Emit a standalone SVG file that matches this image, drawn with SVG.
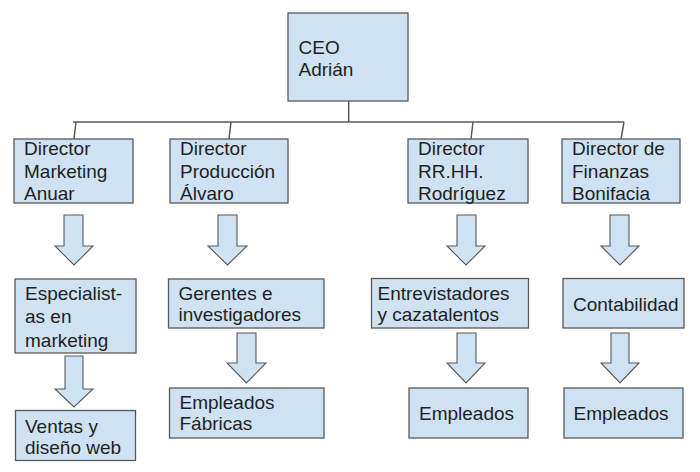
<svg xmlns="http://www.w3.org/2000/svg" width="700" height="472" viewBox="0 0 700 472">
<style>
.box{fill:#cfe2f3;stroke:#595959;stroke-width:1.3}
.arrow{fill:#cfe2f3;stroke:#595959;stroke-width:1.1;stroke-linejoin:miter}
.line{fill:none;stroke:#595959;stroke-width:1.5}
text{font-family:"Liberation Sans",Arial,sans-serif;font-size:19px;fill:#1f1f1f}
</style>
<rect width="700" height="472" fill="#ffffff"/>
<g id="connectors">
<path class="line" d="M348.7 101 V122 M73 122 H624 M76 122 L74 139 M231 122 L229 139 M473 122 L471 139 M624 122 L621 139"/>
<path class="arrow" d="M64 215 H83 V246 H93 L74 265 L55 246 H64 Z"/>
<path class="arrow" d="M218 215 H237 V246 H247 L227.5 265 L208 246 H218 Z"/>
<path class="arrow" d="M457 215 H476 V246 H485 L466 265 L447 246 H457 Z"/>
<path class="arrow" d="M610 215 H629 V246 H639 L620 265 L601 246 H610 Z"/>
<path class="arrow" d="M65 356 H83 V389 H93 L74 407 L55 389 H65 Z"/>
<path class="arrow" d="M237 333 H256 V363 H266 L246.5 383 L227 363 H237 Z"/>
<path class="arrow" d="M457 333 H476 V363 H485 L466 383 L447 363 H457 Z"/>
<path class="arrow" d="M611 333 H629 V363 H639 L620 383 L601 363 H611 Z"/>
</g>
<g id="ceo">
<rect class="box" x="288" y="13" width="120" height="88"/>
<text x="298.5" y="53.5">CEO</text>
<text x="298.5" y="76">Adrián</text>
</g>
<g id="dir-marketing">
<rect class="box" x="14" y="139" width="119" height="64"/>
<text x="24" y="155">Director</text>
<text x="24" y="177.5">Marketing</text>
<text x="24" y="200">Anuar</text>
</g>
<g id="dir-produccion">
<rect class="box" x="170" y="139" width="118" height="64"/>
<text x="180" y="155">Director</text>
<text x="180" y="177.5">Producción</text>
<text x="180" y="200">Álvaro</text>
</g>
<g id="dir-rrhh">
<rect class="box" x="408" y="139" width="120" height="64"/>
<text x="418" y="155">Director</text>
<text x="418" y="177.5">RR.HH.</text>
<text x="418" y="200">Rodríguez</text>
</g>
<g id="dir-finanzas">
<rect class="box" x="562" y="139" width="118" height="64"/>
<text x="572" y="155">Director de</text>
<text x="572" y="177.5">Finanzas</text>
<text x="572" y="200">Bonifacia</text>
</g>
<g id="especialistas">
<rect class="box" x="15" y="279" width="121" height="74"/>
<text x="25" y="300">Especialist-</text>
<text x="25" y="323">as en</text>
<text x="25" y="346.5">marketing</text>
</g>
<g id="ventas">
<rect class="box" x="15.5" y="410.5" width="120" height="50"/>
<text x="25" y="433">Ventas y</text>
<text x="25" y="454">diseño web</text>
</g>
<g id="gerentes">
<rect class="box" x="168.5" y="279" width="155.5" height="49"/>
<text x="178.5" y="300">Gerentes e</text>
<text x="178.5" y="321">investigadores</text>
</g>
<g id="empleados-fabricas">
<rect class="box" x="169.5" y="388" width="154.5" height="50"/>
<text x="179.5" y="409">Empleados</text>
<text x="179.5" y="430">Fábricas</text>
</g>
<g id="entrevistadores">
<rect class="box" x="371.5" y="278.5" width="157" height="49.5"/>
<text x="377.5" y="300">Entrevistadores</text>
<text x="377.5" y="321">y cazatalentos</text>
</g>
<g id="contabilidad">
<rect class="box" x="563" y="278.5" width="121" height="49.5"/>
<text x="573" y="311">Contabilidad</text>
</g>
<g id="empleados-rrhh">
<rect class="box" x="409" y="388" width="119" height="50"/>
<text x="419" y="420">Empleados</text>
</g>
<g id="empleados-finanzas">
<rect class="box" x="564" y="388" width="119" height="50"/>
<text x="573.5" y="420">Empleados</text>
</g>
</svg>
